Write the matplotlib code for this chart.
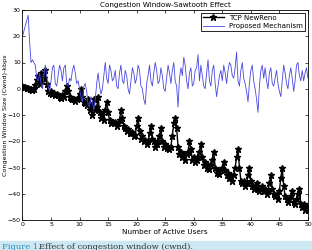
import numpy as np
import matplotlib
matplotlib.use("Agg")
import matplotlib.pyplot as plt
from matplotlib.patches import Rectangle

# Data (step 0.25 users)
users = np.arange(0, 50.01, 0.25)

newreno = [
    1, 0.8, 0.5, 0.3,  0.2, 0, -0.2, -0.5,  0, 1.5, 3.5, 5,  2, 6, 3, 4,
    7, 2, -1, -1.5,  -1, -2, -1.5, -2.5,  -2, -2.5, -3, -3.5,  -2.5, -3, -1, 1,
    -1, -3, -3.5, -4,  -4, -4.5, -4, -3.5,  -2, 0, -3, -5,  -5.5, -6, -4, -8,
    -6, -10, -4, -8,  -7, -3, -9, -11,  -10, -12, -8, -5,  -9, -12, -13, -12.5,
    -13, -12.5, -14, -13,  -12, -8, -11, -14,  -15, -16, -15.5, -17,  -17, -16.5, -18, -17.5,
    -14, -11, -16, -19,  -18, -20, -19.5, -21,  -20, -17, -14, -19,  -20, -22, -21, -20,
    -18, -15, -20, -22,  -21, -22.5, -22, -23,  -22, -18, -13, -11,  -15, -22, -25, -24,
    -26, -25, -27, -25,  -24, -20, -23, -27,  -26, -28, -27, -26,  -24, -21, -26, -29,
    -28, -30, -29, -30.5,  -29, -27, -24, -30,  -32, -31, -32.5, -31,  -30, -28, -31, -33,
    -32, -34, -33, -35,  -33, -30, -26, -23,  -30, -35, -36, -35,  -37, -36, -33, -30,
    -35, -37, -38, -37,  -36, -38, -39, -38,  -37, -39, -38, -40,  -39, -36, -33, -38,
    -40, -41, -40, -42,  -39, -34, -30, -37,  -41, -42, -43, -42,  -41, -39, -43, -44,
    -42, -40, -38, -44,  -45, -44, -46, -45,  -46,
]

proposed = [
    20, 22, 24, 26,  28, 18, 10, 11,  10, 9, 4, 3,  6, 2, 0, 5,
    9, 5, 1, -1,  3, 8, 9, 2,  1, 5, 9, 7,  3, 8, 9, 2,
    1, 4, 3, 7,  9, 6, 2, 3,  0, -3, -5, 1,  2, -1, -6, -7,
    -3, -5, -8, -4,  2, 6, 1, -2,  0, 5, 10, 4,  2, 9, 7, 3,
    4, 7, 1, 0,  6, 9, 3, 2,  7, 5, 0, -2,  3, 8, 6, 2,
    4, 9, 7, 1,  0, -4, -6, 2,  5, 9, 3, 1,  6, 10, 7, 2,
    3, 8, 5, 0,  -1, 4, 9, 6,  2, 7, 10, 3,  1, -7, 4, 8,
    5, 12, 9, 3,  0, 6, 8, 1,  2, 7, 8, 13,  3, 9, 5, 1,
    0, 6, 11, 3,  1, 7, 9, 2,  -3, 1, 5, 7,  3, 9, 6, 2,
    7, 10, 9, 5,  4, 8, 14, 3,  1, 7, 10, 4,  2, -1, -5, 2,
    7, 9, 3, 0,  -4, -9, 1, 7,  9, 4, 8, 3,  0, 6, 8, 2,
    1, 4, 7, 2,  -1, -3, 3, 9,  6, 2, 0, 5,  8, 4, -1, 3,
    9, 10, 5, 3,  7, 3, 6, 8,  4,
]

xticks = range(0, 51, 5)
yticks = range(-50, 31, 10)

fig = plt.figure(figsize=(3.12, 2.5), dpi=100)
ax = fig.add_axes([0.072, 0.12, 0.915, 0.84])

ax.plot(users, newreno, color='k', marker='*', markersize=4.5, linewidth=1.0,
        label='TCP NewReno')
ax.plot(users, proposed, color='#4848e0', linewidth=0.6, label='Proposed Mechanism')

ax.set_xlim(0, 50)
ax.set_ylim(-50, 30)
ax.set_xticks(xticks)
ax.set_yticks(yticks)
ax.tick_params(direction='in', length=2.5, width=0.5, labelsize=4.5, pad=1.2,
               top=True, right=True)
for s in ax.spines.values():
    s.set_linewidth(0.6)

ax.set_title('Congestion Window-Sawtooth Effect', fontsize=5.2, pad=2)
ax.set_xlabel('Number of Active Users', fontsize=5.2, labelpad=2)
ax.set_ylabel('Congestion Window Size (Cwnd)-kbps', fontsize=4.6)
ax.yaxis.set_label_coords(-0.05, 0.5)

leg = ax.legend(loc='upper right', fontsize=5.0, fancybox=False, framealpha=1,
                edgecolor='k', borderpad=0.3, handlelength=3.0, labelspacing=0.3,
                borderaxespad=0.4)
leg.get_frame().set_linewidth(0.6)

# caption band at the bottom (partly cut off)
fig.patches.append(Rectangle((0, 0), 1, 0.036, transform=fig.transFigure,
                             color='#cde8f2', zorder=0))
fig.text(0.005, 0.003, 'Figure 1.', fontsize=6, family='serif', color='#2a8fb8')
fig.text(0.125, 0.003, 'Effect of congestion window (cwnd).', fontsize=6,
         family='serif', color='#333333')

fig.savefig('out.png', dpi=100)
